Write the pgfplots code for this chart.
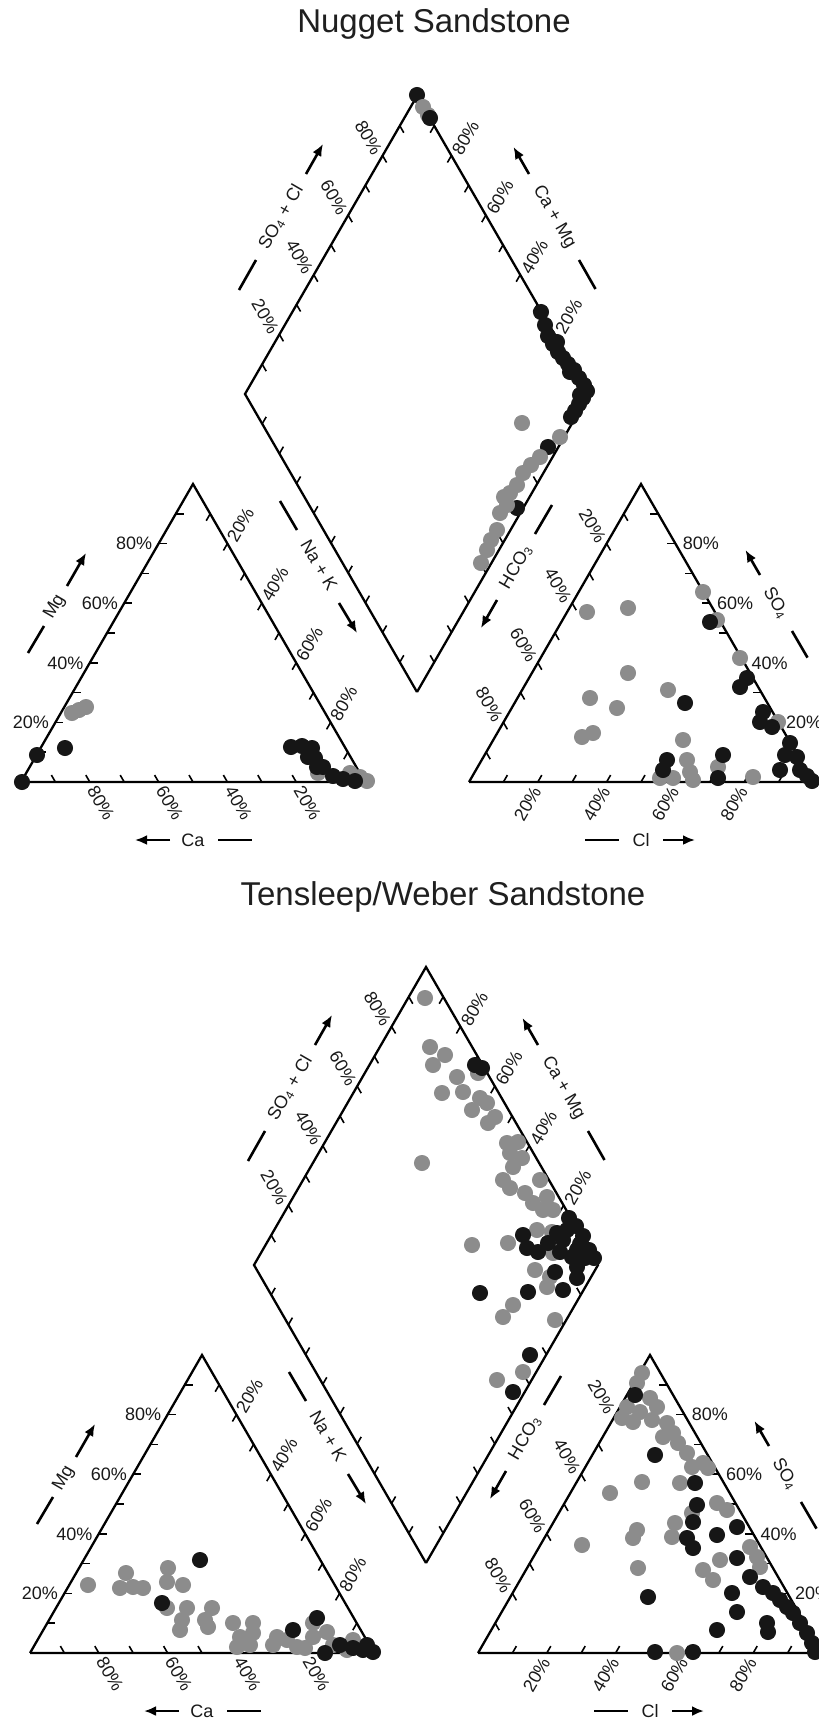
\documentclass[border=0pt]{standalone}
\usepackage{pgfplots}
\pgfplotsset{compat=1.18}
\usepackage{fontspec}
\setmainfont{Liberation Sans}
\usetikzlibrary{arrows.meta}
\definecolor{ptgray}{RGB}{140,140,140}
\definecolor{ptblack}{RGB}{22,22,22}
\tikzset{
  frame/.style={line width=1.15pt, black},
  tk/.style={line width=0.8pt, black},
  lab/.style={font=\fontsize{9}{10}\selectfont, inner sep=0pt, text=black!90},
  dsh/.style={line width=1.3pt, black},
  arr/.style={line width=1.3pt, black, -{Latex[length=6pt,width=5pt]}},
}
\pgfplotsset{
  gpts/.style={only marks, mark=*, mark size=3.8pt, color=ptgray, mark options={draw=ptgray, fill=ptgray}},
  bpts/.style={only marks, mark=*, mark size=3.8pt, color=ptblack, mark options={draw=ptblack, fill=ptblack}},
}
% ticks and percent labels of one Piper diagram, shifted by (#1,#2) pixels
\newcommand{\pipergrid}[2]{%
\pgfplotsinvokeforeach{1,...,9}{%
 \draw[tk] (axis cs:{#1+21+##1*34.4},{#2+782}) -- (axis cs:{#1+21+##1*34.4-4},{#2+782-6.93});
 \draw[tk] (axis cs:{#1+21+##1*17.2},{#2+782-##1*29.8}) -- (axis cs:{#1+21+##1*17.2+8},{#2+782-##1*29.8});
 \draw[tk] (axis cs:{#1+365-##1*17.2},{#2+782-##1*29.8}) -- (axis cs:{#1+365-##1*17.2-4},{#2+782-##1*29.8+6.93});
 \draw[tk] (axis cs:{#1+469+##1*34.4},{#2+782}) -- (axis cs:{#1+469+##1*34.4+4},{#2+782-6.93});
 \draw[tk] (axis cs:{#1+469+##1*17.2},{#2+782-##1*29.8}) -- (axis cs:{#1+469+##1*17.2+4},{#2+782-##1*29.8+6.93});
 \draw[tk] (axis cs:{#1+813-##1*17.2},{#2+782-##1*29.8}) -- (axis cs:{#1+813-##1*17.2-8},{#2+782-##1*29.8});
 \draw[tk] (axis cs:{#1+245+##1*17.2},{#2+394-##1*29.8}) -- (axis cs:{#1+245+##1*17.2+4},{#2+394-##1*29.8+6.93});
 \draw[tk] (axis cs:{#1+417+##1*17.2},{#2+96+##1*29.8}) -- (axis cs:{#1+417+##1*17.2-4},{#2+96+##1*29.8+6.93});
 \draw[tk] (axis cs:{#1+589-##1*17.2},{#2+394+##1*29.8}) -- (axis cs:{#1+589-##1*17.2-4},{#2+394+##1*29.8-6.93});
 \draw[tk] (axis cs:{#1+245+##1*17.2},{#2+394+##1*29.8}) -- (axis cs:{#1+245+##1*17.2+4},{#2+394+##1*29.8-6.93});
}%
\pgfplotsinvokeforeach{2,4,6,8}{%
 \node[lab, anchor=east] at (axis cs:{#1+21+##1*17.2-6},{#2+782-##1*29.8}) {##10\%};
 \node[lab, rotate=-60, anchor=west] at (axis cs:{#1+21+(10-##1)*34.4+2},{#2+782+5}) {##10\%};
 \node[lab, rotate=60, anchor=west] at (axis cs:{#1+193+##1*17.2+4},{#2+484+##1*29.8-3}) {##10\%};
 \node[lab, rotate=-60, anchor=east] at (axis cs:{#1+641-##1*17.2-5},{#2+484+##1*29.8-2}) {##10\%};
 \node[lab, rotate=60, anchor=east] at (axis cs:{#1+469+##1*34.4-1},{#2+782+6}) {##10\%};
 \node[lab, anchor=west] at (axis cs:{#1+813-##1*17.2+7},{#2+782-##1*29.8}) {##10\%};
 \node[lab, rotate=-60, anchor=east] at (axis cs:{#1+245+##1*17.2-5},{#2+394-##1*29.8-2}) {##10\%};
 \node[lab, rotate=60, anchor=west] at (axis cs:{#1+417+(10-##1)*17.2+5},{#2+96+(10-##1)*29.8-2}) {##10\%};
}%
}
% axis names with dashes and arrows
\newcommand{\piperaxes}[2]{%
 \draw[dsh] (axis cs:{#1+28},{#2+653}) -- (axis cs:{#1+44},{#2+626});
 \node[lab, rotate=60] at (axis cs:{#1+55},{#2+607}) {Mg};
 \draw[arr] (axis cs:{#1+67},{#2+586}) -- (axis cs:{#1+86},{#2+553});
 \draw[arr] (axis cs:{#1+170},{#2+840}) -- (axis cs:{#1+135},{#2+840});
 \node[lab] at (axis cs:{#1+193},{#2+840}) {Ca};
 \draw[dsh] (axis cs:{#1+218},{#2+840}) -- (axis cs:{#1+252},{#2+840});
 \draw[dsh] (axis cs:{#1+280},{#2+501}) -- (axis cs:{#1+297},{#2+530});
 \node[lab, rotate=-60] at (axis cs:{#1+319},{#2+565}) {Na + K};
 \draw[arr] (axis cs:{#1+339},{#2+603}) -- (axis cs:{#1+357},{#2+633});
 \draw[dsh] (axis cs:{#1+535},{#2+534}) -- (axis cs:{#1+552},{#2+505});
 \node[lab, rotate=60] at (axis cs:{#1+516},{#2+567}) {HCO\textsubscript{3}};
 \draw[arr] (axis cs:{#1+497},{#2+600}) -- (axis cs:{#1+481},{#2+628});
 \draw[arr] (axis cs:{#1+760},{#2+575}) -- (axis cs:{#1+745.5},{#2+550});
 \node[lab, rotate=-60] at (axis cs:{#1+776},{#2+603}) {SO\textsubscript{4}};
 \draw[dsh] (axis cs:{#1+792},{#2+631}) -- (axis cs:{#1+807.5},{#2+657.6});
 \draw[dsh] (axis cs:{#1+585},{#2+840}) -- (axis cs:{#1+619},{#2+840});
 \node[lab] at (axis cs:{#1+641},{#2+840}) {Cl};
 \draw[arr] (axis cs:{#1+663},{#2+840}) -- (axis cs:{#1+695},{#2+840});
 \draw[dsh] (axis cs:{#1+239},{#2+290}) -- (axis cs:{#1+256},{#2+260});
 \node[lab, rotate=60] at (axis cs:{#1+281},{#2+217}) {SO\textsubscript{4} + Cl};
 \draw[arr] (axis cs:{#1+306},{#2+174}) -- (axis cs:{#1+323},{#2+144});
 \draw[arr] (axis cs:{#1+529},{#2+174}) -- (axis cs:{#1+513.5},{#2+147});
 \node[lab, rotate=-60] at (axis cs:{#1+554},{#2+217}) {Ca + Mg};
 \draw[dsh] (axis cs:{#1+579},{#2+260}) -- (axis cs:{#1+595.5},{#2+289});
}
\begin{document}
\begin{tikzpicture}
\begin{axis}[
  scale only axis, width=409.5pt, height=859.5pt,
  xmin=0, xmax=819, ymin=0, ymax=1719, y dir=reverse,
  axis lines=none, clip=false,
]
% ---------------- frames ----------------
\addplot[frame] coordinates {(21,782) (365,782) (193,484) (21,782)};
\addplot[frame] coordinates {(469,782) (813,782) (641,484) (469,782)};
\addplot[frame] coordinates {(417,692) (245,394) (417,96) (589,394) (417,692)};
\addplot[frame] coordinates {(30,1653) (374,1653) (202,1355) (30,1653)};
\addplot[frame] coordinates {(478,1653) (822,1653) (650,1355) (478,1653)};
\addplot[frame] coordinates {(426,1563) (254,1265) (426,967) (598,1265) (426,1563)};
\pipergrid{0}{0}
\pipergrid{9}{871}
\piperaxes{0}{0}
\piperaxes{9}{871}
\node[font=\fontsize{16.5}{18}\selectfont, text=black!88] at (axis cs:434,24) {Nugget Sandstone};
\node[font=\fontsize{16.5}{18}\selectfont, text=black!88] at (axis cs:443,897) {Tensleep/Weber Sandstone};

% ================= Nugget Sandstone =================
% cation triangle
\addplot[gpts] table {
x y
72 713
79 710
86 707
318 773
350 773
360 777
367 781
};
\addplot[bpts] table {
x y
22 782
37 755
65 748
291 747
302 746
312 748
315 758
317 767
308 757
323 767
333 776
343 779
355 781
};
% anion triangle
\addplot[gpts] table {
x y
703 592
717 620
740 658
778 722
587 612
628 608
628 673
590 698
617 708
582 737
593 733
668 690
683 740
660 778
673 778
687 760
690 772
693 780
718 767
753 777
};
\addplot[bpts] table {
x y
710 622
747 678
740 687
763 712
760 722
772 727
790 743
785 755
797 757
780 770
800 770
807 776
812 781
685 703
667 760
663 770
723 755
718 778
};
% diamond
\addplot[bpts] table {
x y
417 95
541 312
545 325
548 336
553 344
558 352
563 358
568 364
574 370
579 378
584 385
587 391
583 398
579 404
575 411
571 417
557 342
570 372
580 395
548 447
517 508
};
\addplot[gpts] table {
x y
423 107
428 115
522 423
560 437
540 457
531 465
523 473
517 485
510 493
504 497
507 505
500 513
497 530
491 540
487 550
481 563
};
\addplot[bpts] table {
x y
430 118
};

% ================= Tensleep/Weber Sandstone =================
% cation triangle
\addplot[gpts] table {
x y
88 1585
126 1573
120 1588
133 1587
143 1588
168 1568
167 1582
183 1585
167 1608
187 1608
180 1630
182 1620
212 1608
205 1620
208 1627
233 1623
253 1623
240 1637
237 1647
253 1633
250 1645
277 1637
287 1640
273 1645
297 1647
313 1623
313 1637
327 1632
333 1645
347 1650
353 1640
305 1648
};
\addplot[bpts] table {
x y
200 1560
162 1603
293 1630
317 1618
325 1653
340 1645
353 1648
363 1650
373 1652
367 1645
};
% anion triangle
\addplot[gpts] table {
x y
642 1373
637 1383
627 1407
622 1418
650 1398
657 1407
640 1412
652 1420
633 1422
667 1423
673 1433
663 1437
678 1443
687 1453
703 1463
708 1468
692 1467
642 1482
680 1483
610 1493
717 1503
727 1510
692 1513
637 1530
633 1538
675 1523
672 1537
582 1545
750 1547
757 1557
760 1567
720 1560
638 1568
703 1570
713 1580
677 1653
};
\addplot[bpts] table {
x y
635 1395
655 1455
695 1483
697 1505
693 1522
687 1538
693 1548
717 1535
737 1527
737 1558
750 1577
763 1587
773 1593
780 1600
787 1607
793 1613
800 1623
807 1633
812 1643
815 1652
732 1593
737 1612
717 1630
767 1623
768 1632
648 1597
655 1652
693 1652
};
% diamond
\addplot[gpts] table {
x y
425 998
430 1047
445 1055
433 1065
457 1077
478 1073
442 1093
463 1092
480 1098
472 1110
487 1103
495 1117
488 1123
507 1143
518 1142
510 1153
522 1158
513 1167
422 1163
503 1180
510 1188
540 1180
525 1193
533 1203
547 1197
543 1210
553 1210
537 1230
552 1232
553 1253
535 1270
547 1287
550 1277
472 1245
508 1243
513 1305
503 1317
555 1320
523 1372
497 1380
};
\addplot[bpts] table {
x y
475 1065
482 1068
569 1218
576 1226
567 1230
583 1236
580 1244
589 1250
594 1258
585 1258
577 1250
572 1257
563 1240
523 1235
527 1248
538 1252
548 1243
557 1233
560 1252
577 1267
555 1272
563 1290
577 1278
528 1292
480 1293
530 1355
513 1392
};
\end{axis}
\pgfresetboundingbox
\useasboundingbox (0,0) rectangle (409.5pt,859.5pt);
\end{tikzpicture}
\end{document}
